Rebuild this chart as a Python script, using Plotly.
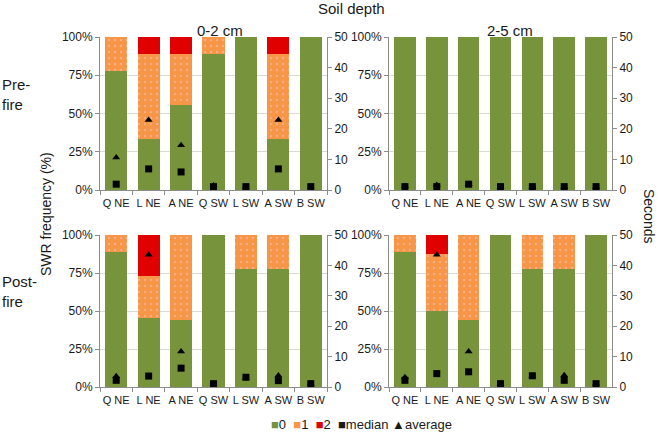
import plotly.graph_objects as go

W, H = 659, 436

categories = ["Q NE", "L NE", "A NE", "Q SW", "L SW", "A SW", "B SW"]

# SWR class frequencies (%), per panel
pre_02_class0 = [77.8, 33.3, 55.6, 88.9, 100, 33.3, 100]
pre_02_class1 = [22.2, 55.6, 33.3, 11.1, 0, 55.6, 0]
pre_02_class2 = [0, 11.1, 11.1, 0, 0, 11.1, 0]
pre_02_median = [1.9, 6.9, 5.9, 1.1, 1.1, 6.9, 1.1]
pre_02_average = [10.6, 22.9, 14.6, 1.5, 1.1, 22.9, 1.1]

pre_25_class0 = [100, 100, 100, 100, 100, 100, 100]
pre_25_class1 = [0, 0, 0, 0, 0, 0, 0]
pre_25_class2 = [0, 0, 0, 0, 0, 0, 0]
pre_25_median = [1.1, 1.1, 1.9, 1.1, 1.1, 1.1, 1.1]
pre_25_average = [1.2, 1.6, 1.9, 1.1, 1.1, 1.1, 1.1]

post_02_class0 = [88.9, 45.5, 44.4, 100, 77.8, 77.8, 100]
post_02_class1 = [11.1, 27.3, 55.6, 0, 22.2, 22.2, 0]
post_02_class2 = [0, 27.3, 0, 0, 0, 0, 0]
post_02_median = [2.2, 3.6, 6.2, 1.1, 3.2, 2.1, 1.1]
post_02_average = [3.5, 43.5, 11.7, 1.1, 3.0, 3.8, 1.1]

post_25_class0 = [88.9, 50.0, 44.4, 100, 77.8, 77.8, 100]
post_25_class1 = [11.1, 37.5, 55.6, 0, 22.2, 22.2, 0]
post_25_class2 = [0, 12.5, 0, 0, 0, 0, 0]
post_25_median = [2.2, 4.4, 5.0, 1.1, 3.7, 2.2, 1.1]
post_25_average = [3.2, 43.5, 11.7, 1.1, 3.5, 3.9, 1.1]

pct_ticks = [0, 25, 50, 75, 100]
pct_ticktext = ["0%", "25%", "50%", "75%", "100%"]
sec_ticks = [0, 10, 20, 30, 40, 50]

GREEN = "#77933C"
ORANGE = "#F79646"
RED = "#E00000"
FONT = "Liberation Sans, Arial, sans-serif"
AXCOL = "#8C8C8C"
GRID = "#D9D9D9"
TXT = "#1a1a1a"

def px_x(x):
    return x / W

def px_y(y):
    return 1 - y / H

panels = [
    dict(c0=pre_02_class0, c1=pre_02_class1, c2=pre_02_class2, med=pre_02_median, avg=pre_02_average,
         xd=(100, 327), yd=(37, 190)),
    dict(c0=pre_25_class0, c1=pre_25_class1, c2=pre_25_class2, med=pre_25_median, avg=pre_25_average,
         xd=(389, 612), yd=(37, 190)),
    dict(c0=post_02_class0, c1=post_02_class1, c2=post_02_class2, med=post_02_median, avg=post_02_average,
         xd=(100, 327), yd=(235, 387)),
    dict(c0=post_25_class0, c1=post_25_class1, c2=post_25_class2, med=post_25_median, avg=post_25_average,
         xd=(389, 612), yd=(235, 387)),
]

fig = go.Figure()
layout = {}

for i, p in enumerate(panels):
    k = i + 1
    xname = "x" if k == 1 else f"x{k}"
    ypct_n = 2 * i + 1
    ysec_n = 2 * i + 2
    ypct = "y" if ypct_n == 1 else f"y{ypct_n}"
    ysec = f"y{ysec_n}"

    fig.add_trace(go.Bar(x=categories, y=p["c0"], name="0", xaxis=xname, yaxis=ypct,
                         marker=dict(color=GREEN, line=dict(width=0)), showlegend=False))
    fig.add_trace(go.Bar(x=categories, y=p["c1"], name="1", xaxis=xname, yaxis=ypct,
                         marker=dict(color=ORANGE, line=dict(width=0),
                                     pattern=dict(shape=".", fgcolor="#F8C8C8", bgcolor=ORANGE,
                                                  size=6, solidity=0.12)),
                         showlegend=False))
    fig.add_trace(go.Bar(x=categories, y=p["c2"], name="2", xaxis=xname, yaxis=ypct,
                         marker=dict(color=RED, line=dict(width=0)), showlegend=False))
    fig.add_trace(go.Scatter(x=categories, y=p["med"], name="median", mode="markers", xaxis=xname, yaxis=ysec,
                             marker=dict(symbol="square", size=7, color="black"), showlegend=False))
    fig.add_trace(go.Scatter(x=categories, y=p["avg"], name="average", mode="markers", xaxis=xname, yaxis=ysec,
                             marker=dict(symbol="triangle-up", size=7, color="black"), showlegend=False))

    xd = [px_x(p["xd"][0]), px_x(p["xd"][1])]
    yd = [px_y(p["yd"][1]), px_y(p["yd"][0])]
    tickfont = dict(family=FONT, size=12, color=TXT)
    layout["xaxis" if k == 1 else f"xaxis{k}"] = dict(
        domain=xd, anchor=ypct, type="category", range=[-0.5, 6.5],
        showline=True, linecolor=AXCOL, linewidth=1, ticks="outside", tickson="boundaries",
        ticklen=4, tickcolor=AXCOL, showgrid=False, tickangle=0, automargin=False,
        ticklabelstandoff=3, tickfont=dict(family=FONT, size=11, color=TXT))
    layout["yaxis" if ypct_n == 1 else f"yaxis{ypct_n}"] = dict(
        domain=yd, anchor=xname, range=[0, 100], tickvals=pct_ticks, ticktext=pct_ticktext,
        showline=True, linecolor=AXCOL, ticks="outside", ticklen=4, tickcolor=AXCOL,
        gridcolor=GRID, gridwidth=1, zeroline=False, tickfont=tickfont, automargin=False)
    layout[f"yaxis{ysec_n}"] = dict(
        overlaying=ypct, anchor=xname, side="right", range=[0, 50], tickvals=sec_ticks,
        showline=True, linecolor=AXCOL, ticks="outside", ticklen=4, tickcolor=AXCOL,
        showgrid=False, zeroline=False, tickfont=tickfont, automargin=False)

annotations = [
    dict(text="Soil depth", x=px_x(351), y=px_y(8), font=dict(size=15)),
    dict(text="0-2 cm", x=px_x(220), y=px_y(30), font=dict(size=15)),
    dict(text="2-5 cm", x=px_x(510), y=px_y(30), font=dict(size=15)),
    dict(text="Pre-<br>fire", x=0, y=px_y(95), xanchor="left", align="left", font=dict(size=15)),
    dict(text="Post-<br>fire", x=0, y=px_y(291), xanchor="left", align="left", font=dict(size=15)),
    dict(text="SWR frequency (%)", x=px_x(46), y=px_y(214), textangle=-90, font=dict(size=14)),
    dict(text="Seconds", x=px_x(649), y=px_y(216), textangle=90, font=dict(size=14)),
    dict(text=(f'<span style="color:{GREEN}">■</span>0  '
               f'<span style="color:{ORANGE}">■</span>1  '
               f'<span style="color:{RED}">■</span>2  '
               '■median ▲average'),
         x=px_x(362), y=px_y(424), font=dict(size=13)),
]
for a in annotations:
    a.setdefault("xanchor", "center")
    a.setdefault("yanchor", "middle")
    a["xref"] = "paper"
    a["yref"] = "paper"
    a["showarrow"] = False
    a["font"] = dict(family=FONT, color=TXT, **a["font"])

fig.update_layout(
    width=W, height=H, margin=dict(l=0, r=0, t=0, b=0, pad=0),
    paper_bgcolor="white", plot_bgcolor="white",
    barmode="stack", bargap=0.32, showlegend=False,
    annotations=annotations, font=dict(family=FONT, color=TXT),
    **layout,
)

fig.write_html("out.html",
               config={"displayModeBar": False},
               post_script="document.body.style.margin='0';document.body.style.padding='0';"
                           "document.body.style.overflow='hidden';")
